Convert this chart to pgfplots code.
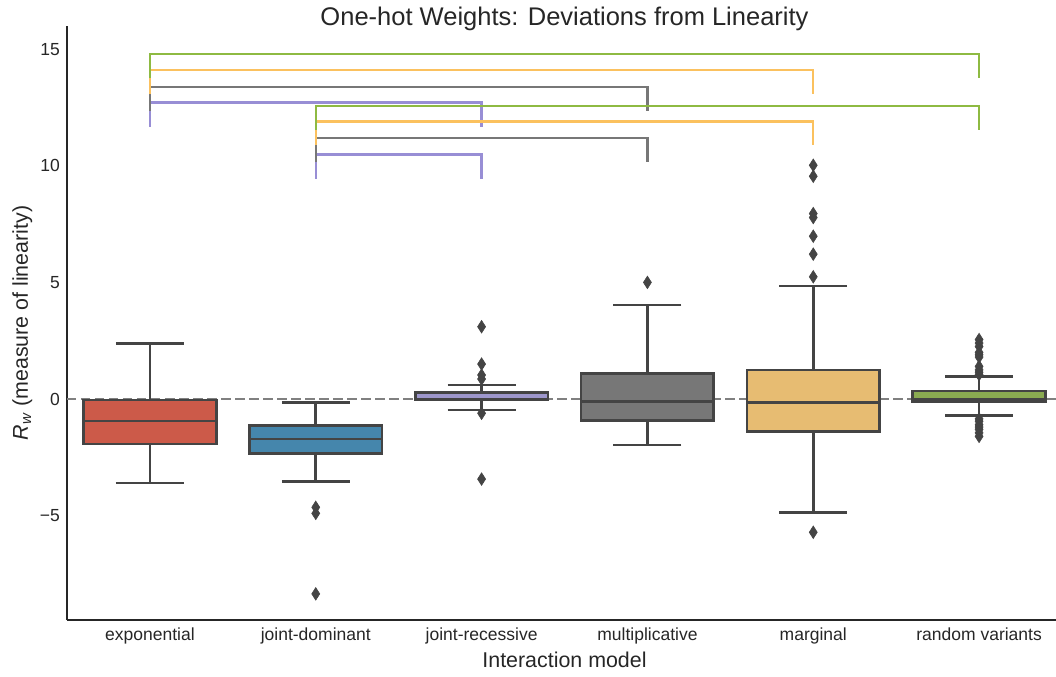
\documentclass[border=0pt]{standalone}
\usepackage{fontspec}
\setmainfont{Liberation Sans}
\usepackage{pgfplots}
\pgfplotsset{compat=1.18}
\usepgfplotslibrary{statistics}

% text and box outline colours
\definecolor{txt}{HTML}{262626}
\definecolor{edge}{HTML}{444444}
\definecolor{zeroline}{HTML}{808080}
% box fills (desaturated palette)
\definecolor{cExp}{HTML}{CC5A49}
\definecolor{cDom}{HTML}{4586AC}
\definecolor{cRec}{HTML}{9E97CC}
\definecolor{cMul}{HTML}{777777}
\definecolor{cMar}{HTML}{E7BC72}
\definecolor{cRnd}{HTML}{8AAB51}
% significance bracket colours
\definecolor{bPur}{HTML}{988ED5}
\definecolor{bGry}{HTML}{777777}
\definecolor{bOra}{HTML}{FBC15E}
\definecolor{bGrn}{HTML}{8EBA42}

\pgfplotsset{
  rwbox/.style={
    boxplot/draw direction=y,
    draw=edge, line width=2.6bp, solid,
    mark=diamond*, mark size=6.3pt,
    mark options={draw=edge, fill=edge, line width=0.6bp, xscale=0.85},
  },
  bracket/.style={line width=2.2bp, no markers},
}

\begin{document}
\begin{tikzpicture}
\begin{axis}[
  scale only axis, width=995bp, height=594bp,
  xmin=-0.5, xmax=5.5, ymin=-9.47, ymax=15.99,
  axis x line*=bottom, axis y line*=left,
  axis line style={-, draw=txt, line width=1.8bp},
  major tick length=0pt,
  xtick={0,1,2,3,4,5},
  xticklabels={exponential,joint-dominant,joint-recessive,multiplicative,marginal,random variants},
  ytick={-5,0,5,10,15},
  yticklabels={−5,0,5,10,15},
  tick label style={font=\fontsize{17.5bp}{21bp}\selectfont, text=txt, inner sep=0pt},
  xticklabel style={anchor=base, yshift=-20bp},
  yticklabel style={anchor=east, xshift=-7bp},
  title={One-hot Weights: Deviations from Linearity},
  title style={at={(axis description cs:0.5,1)}, anchor=base, yshift=-5bp,
    font=\fontsize{25.5bp}{30bp}\selectfont, text=txt, inner sep=0pt},
  xlabel={Interaction model},
  xlabel style={at={(axis description cs:0.5,0)}, anchor=base, yshift=-47bp,
    font=\fontsize{21.4bp}{26bp}\selectfont, text=txt, inner sep=0pt},
  ylabel={\textit{R}\textsubscript{\textit{w}} (measure of linearity)},
  ylabel style={at={(axis description cs:-0.0392,0.5)}, anchor=base,
    font=\fontsize{21.4bp}{26bp}\selectfont, text=txt, inner sep=0pt},
  clip=false,
]

% reference line at zero
\addplot[zeroline, line width=2.5bp, dash pattern=on 9.5bp off 4.5bp]
  coordinates {(-0.5,0) (5.5,0)};

% exponential
\addplot[rwbox, fill=cExp, boxplot prepared={draw position=0,
  median=-0.94, upper quartile=-0.04, lower quartile=-1.92,
  upper whisker=2.39, lower whisker=-3.59,
  box extend=0.8, whisker extend=0.41}] coordinates {};
% joint-dominant
\addplot[rwbox, fill=cDom, boxplot prepared={draw position=1,
  median=-1.71, upper quartile=-1.14, lower quartile=-2.33,
  upper whisker=-0.16, lower whisker=-3.53,
  box extend=0.8, whisker extend=0.41}]
  table[row sep=\\, y index=0] {-4.64\\ -4.90\\ -8.35\\};
% joint-recessive
\addplot[rwbox, fill=cRec, boxplot prepared={draw position=2,
  median=0.0, upper quartile=0.27, lower quartile=-0.04,
  upper whisker=0.60, lower whisker=-0.47,
  box extend=0.8, whisker extend=0.41}]
  table[row sep=\\, y index=0] {3.10\\ 1.50\\ 1.03\\ 0.86\\ -0.61\\ -3.43\\};
% multiplicative
\addplot[rwbox, fill=cMul, boxplot prepared={draw position=3,
  median=-0.11, upper quartile=1.10, lower quartile=-0.93,
  upper whisker=4.03, lower whisker=-1.97,
  box extend=0.8, whisker extend=0.41}]
  table[row sep=\\, y index=0] {5.00\\};
% marginal
\addplot[rwbox, fill=cMar, boxplot prepared={draw position=4,
  median=-0.14, upper quartile=1.24, lower quartile=-1.40,
  upper whisker=4.84, lower whisker=-4.87,
  box extend=0.8, whisker extend=0.41}]
  table[row sep=\\, y index=0] {10.02\\ 9.55\\ 7.95\\ 7.78\\ 6.98\\ 6.21\\ 5.24\\ -5.71\\};
% random variants
\addplot[rwbox, fill=cRnd, boxplot prepared={draw position=5,
  median=-0.02, upper quartile=0.34, lower quartile=-0.11,
  upper whisker=0.96, lower whisker=-0.71,
  box extend=0.8, whisker extend=0.41}]
  table[row sep=\\, y index=0] {2.55\\ 2.40\\ 2.25\\ 2.00\\ 1.90\\ 1.80\\ 1.40\\ 1.25\\ 1.15\\ 1.05\\
    -0.85\\ -0.95\\ -1.10\\ -1.20\\ -1.30\\ -1.45\\ -1.60\\};

% brackets from exponential
\addplot[bracket, bPur] coordinates {(0,11.68) (0,12.71) (2,12.71) (2,11.68)};
\addplot[bracket, bGry] coordinates {(0,12.35) (0,13.38) (3,13.38) (3,12.35)};
\addplot[bracket, bOra] coordinates {(0,13.06) (0,14.09) (4,14.09) (4,13.06)};
\addplot[bracket, bGrn] coordinates {(0,13.75) (0,14.78) (5,14.78) (5,13.75)};
% brackets from joint-dominant
\addplot[bracket, bPur] coordinates {(1,9.45) (1,10.48) (2,10.48) (2,9.45)};
\addplot[bracket, bGry] coordinates {(1,10.16) (1,11.19) (3,11.19) (3,10.16)};
\addplot[bracket, bOra] coordinates {(1,10.87) (1,11.90) (4,11.90) (4,10.87)};
\addplot[bracket, bGrn] coordinates {(1,11.53) (1,12.56) (5,12.56) (5,11.53)};
\end{axis}
\pgfresetboundingbox
\path[use as bounding box] (-67bp,-57bp) rectangle (989bp,620bp);
\end{tikzpicture}
\end{document}
